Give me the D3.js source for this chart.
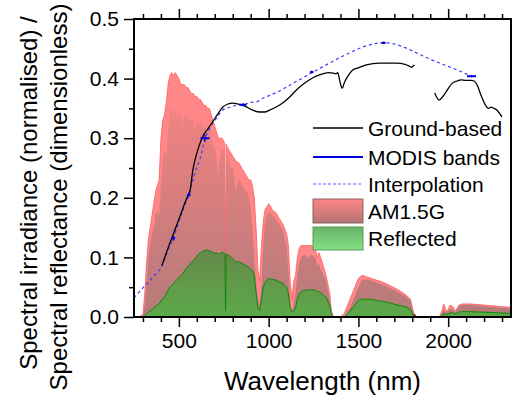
<!DOCTYPE html>
<html>
<head>
<meta charset="utf-8">
<script src="https://cdn.jsdelivr.net/npm/d3@7"></script>
<style>
  body { margin: 0; background: #fff; }
  svg text { font-family: "Liberation Sans", Arial, sans-serif; fill: #000; }
</style>
</head>
<body>
<div id="chart"></div>
<script>

// AM1.5G spectrum (normalised) and reflected part
var amWl = [280,300,310,320,330,340,350,360,370,380,
    390,400,410,420,430,440,450,460,470,480,
    490,500,510,520,530,540,550,560,570,580,
    590,600,610,620,630,640,650,660,670,680,
    690,700,710,720,730,740,750,756,760,764,
    770,780,790,800,810,820,830,840,850,860,
    870,880,890,900,910,920,930,940,950,960,
    970,980,990,1000,1010,1020,1040,1060,1080,1100,
    1110,1120,1130,1140,1150,1160,1170,1180,1200,1220,
    1240,1260,1270,1280,1290,1300,1320,1340,1350,1360,
    1400,1420,1440,1460,1480,1500,1520,1540,1560,1600,
    1640,1680,1720,1760,1790,1810,1820,1950,1965,1975,
    1990,2000,2010,2025,2040,2060,2080,2120,2200,2280,
    2350];
var amHigh = [0,0.005,0.04,0.09,0.13,0.15,0.17,0.19,0.21,0.22,
    0.23,0.30,0.33,0.34,0.36,0.39,0.405,0.41,0.405,0.41,
    0.405,0.40,0.39,0.39,0.39,0.385,0.385,0.38,0.375,0.375,
    0.37,0.37,0.365,0.365,0.36,0.355,0.355,0.35,0.35,0.34,
    0.33,0.32,0.31,0.30,0.30,0.30,0.295,0.29,0.10,0.29,
    0.285,0.28,0.275,0.27,0.265,0.26,0.26,0.255,0.25,0.245,
    0.24,0.235,0.23,0.23,0.22,0.20,0.15,0.08,0.06,0.12,
    0.16,0.18,0.185,0.19,0.186,0.18,0.175,0.165,0.155,0.14,
    0.12,0.06,0.03,0.06,0.07,0.10,0.115,0.12,0.12,0.12,
    0.12,0.115,0.10,0.108,0.10,0.09,0.07,0.04,0.01,0,
    0,0.005,0.02,0.035,0.05,0.065,0.07,0.068,0.066,0.062,
    0.058,0.052,0.046,0.038,0.03,0.005,0,0,0.01,0.022,
    0.01,0.012,0.02,0.018,0.01,0.02,0.022,0.022,0.02,0.018,
    0.016];
var amLow = [0,0,0.02,0.06,0.10,0.12,0.14,0.15,0.17,0.18,
    0.17,0.22,0.26,0.28,0.27,0.31,0.34,0.35,0.34,0.35,
    0.33,0.34,0.34,0.32,0.34,0.33,0.34,0.33,0.33,0.33,
    0.31,0.33,0.32,0.33,0.32,0.32,0.32,0.30,0.32,0.31,
    0.28,0.29,0.26,0.24,0.27,0.28,0.28,0.27,0.03,0.27,
    0.27,0.26,0.25,0.25,0.23,0.21,0.23,0.23,0.22,0.22,
    0.21,0.21,0.20,0.18,0.15,0.10,0.06,0.03,0.02,0.05,
    0.12,0.16,0.17,0.175,0.175,0.17,0.165,0.155,0.145,0.12,
    0.08,0.02,0.01,0.02,0.04,0.07,0.09,0.10,0.105,0.10,
    0.105,0.10,0.085,0.09,0.08,0.075,0.06,0.03,0.005,0,
    0,0,0.01,0.02,0.035,0.05,0.062,0.063,0.062,0.058,
    0.054,0.048,0.042,0.035,0.027,0,0,0,0.005,0.012,
    0.008,0.01,0.014,0.012,0.008,0.018,0.02,0.02,0.018,0.016,
    0.014];
var refl = [0,0,0.002,0.005,0.008,0.01,0.012,0.015,0.018,0.02,
    0.022,0.027,0.03,0.035,0.038,0.045,0.05,0.053,0.056,0.06,
    0.063,0.066,0.069,0.072,0.077,0.081,0.085,0.088,0.092,0.095,
    0.097,0.102,0.106,0.108,0.11,0.111,0.112,0.112,0.111,0.11,
    0.108,0.107,0.108,0.105,0.107,0.108,0.108,0.106,0.01,0.106,
    0.104,0.103,0.1,0.098,0.095,0.092,0.093,0.092,0.09,0.089,
    0.087,0.085,0.083,0.08,0.078,0.07,0.04,0.015,0.01,0.03,
    0.05,0.058,0.062,0.064,0.064,0.063,0.062,0.059,0.056,0.05,
    0.04,0.015,0.008,0.01,0.015,0.03,0.038,0.042,0.045,0.045,
    0.046,0.045,0.042,0.043,0.04,0.038,0.033,0.02,0.005,0,
    0,0,0.005,0.012,0.02,0.028,0.03,0.03,0.03,0.028,
    0.026,0.023,0.02,0.017,0.013,0,0,0,0.002,0.006,
    0.004,0.005,0.007,0.007,0.005,0.008,0.009,0.009,0.008,0.007,
    0.006];

// ground-based reflectance (null = gap in the water band)
var gbWl = [405,440,470,505,545,561,578,605,633,660,689,720,744,770,800,830,855,880,911,950,
    978,1005,1040,1078,1120,1155,1190,1228,1265,1300,1340,1360,1375,1385,1395,1405,1411,1420,1439,1467,
    1500,1544,1617,1711,1760,1783,1795,1811,
    1860,
    1925,1950,1970,1989,2022,2050,2072,2100,2128,2145,2160,2183,2200,2211,2225,2239,2255,2272,2290,2300];
var gbVal = [0.086,0.116,0.14,0.168,0.200,0.21,0.247,0.28,0.303,0.315,0.328,0.342,0.352,0.357,0.359,0.357,0.356,0.352,0.347,0.344,
    0.344,0.347,0.352,0.359,0.370,0.381,0.390,0.398,0.404,0.408,0.410,0.409,0.408,0.410,0.398,0.386,0.384,0.392,0.403,0.414,
    0.418,0.423,0.426,0.426,0.424,0.421,0.419,0.423,
    null,
    0.376,0.364,0.37,0.378,0.392,0.396,0.398,0.397,0.397,0.396,0.39,0.372,0.36,0.354,0.35,0.352,0.35,0.347,0.34,0.336];

// interpolation between MODIS bands
var ipWl = [250,300,355,406,440,469,500,530,555,590,617,645,672,711,744,783,820,858,900,933,
    967,1000,1078,1140,1189,1240,1290,1339,1400,1450,1500,1544,1600,1640,1700,1760,1811,1860,1911,1970,
    2022,2070,2100,2130];
var ipVal = [0.032,0.049,0.067,0.086,0.112,0.132,0.16,0.185,0.205,0.242,0.265,0.298,0.317,0.334,0.347,0.352,0.355,0.356,0.36,0.361,
    0.367,0.371,0.382,0.393,0.401,0.41,0.418,0.426,0.436,0.443,0.45,0.455,0.459,0.46,0.458,0.452,0.445,0.438,0.431,0.424,
    0.418,0.412,0.408,0.404];

// MODIS bands 1-7
var bandLo = [620,841,459,545,1230,1628,2105];
var bandHi = [670,876,479,565,1250,1652,2155];
var bandVal = [0.300,0.356,0.132,0.205,0.411,0.460,0.404];
var bandErr = [0.006,0.003,0.004,0.004,0.002,0.002,0.002];

var xMajor = [500,1000,1500,2000];
var xMinor = [300,400,600,700,800,900,1100,1200,1300,1400,1600,1700,1800,1900,2100,2200,2300];
var yMajor = [0,0.1,0.2,0.3,0.4,0.5];
var yMinor = [0.05,0.15,0.25,0.35,0.45];

var legendItems = ["Ground-based","MODIS bands","Interpolation","AM1.5G","Reflected"];

var margin = {top: 19, right: 5, bottom: 83, left: 134},
    width = 516 - margin.left - margin.right,
    height = 400 - margin.top - margin.bottom;

var svg = d3.select("#chart").append("svg")
    .attr("width", 516)
    .attr("height", 400);

var defs = svg.append("defs");

var g = svg.append("g")
    .attr("transform", "translate(" + margin.left + "," + margin.top + ")");

var x = d3.scaleLinear().domain([250, 2350]).range([0, width]);
var y = d3.scaleLinear().domain([0, 0.5]).range([height, 0]);

// gradients
var rg = defs.append("linearGradient").attr("id", "redGrad")
    .attr("gradientUnits", "userSpaceOnUse")
    .attr("x1", 0).attr("x2", 0).attr("y1", y(0.41)).attr("y2", y(0));
rg.append("stop").attr("offset", 0).attr("stop-color", "#fb8383");
rg.append("stop").attr("offset", 1).attr("stop-color", "#b57a7a");

var gg = defs.append("linearGradient").attr("id", "greenGrad")
    .attr("gradientUnits", "userSpaceOnUse")
    .attr("x1", 0).attr("x2", 0).attr("y1", y(0.115)).attr("y2", y(0));
gg.append("stop").attr("offset", 0).attr("stop-color", "#66884a");
gg.append("stop").attr("offset", 1).attr("stop-color", "#5caa4a");

var rl = defs.append("linearGradient").attr("id", "redLeg")
    .attr("x1", 0).attr("x2", 0).attr("y1", 0).attr("y2", 1);
rl.append("stop").attr("offset", 0).attr("stop-color", "#ff8585");
rl.append("stop").attr("offset", 1).attr("stop-color", "#b47474");

var gl = defs.append("linearGradient").attr("id", "greenLeg")
    .attr("x1", 0).attr("x2", 0).attr("y1", 0).attr("y2", 1);
gl.append("stop").attr("offset", 0).attr("stop-color", "#68b468");
gl.append("stop").attr("offset", 1).attr("stop-color", "#84e084");

defs.append("clipPath").attr("id", "clip")
    .append("rect").attr("width", width).attr("height", height);

var plot = g.append("g").attr("clip-path", "url(#clip)");

var amData = amWl.map(function(w, i) {
    return {w: w, hi: amHigh[i], lo: amLow[i], r: refl[i]};
});

// spectrum: pale spiky envelope, body and reflected part
plot.append("path")
    .datum(amData)
    .attr("fill", "#ff7272")
    .attr("fill-opacity", 0.85)
    .attr("stroke", "#ff5c5c")
    .attr("stroke-width", 0.8)
    .attr("d", d3.area().x(function(d) { return x(d.w); })
        .y0(y(0)).y1(function(d) { return y(d.hi); }));

plot.append("path")
    .datum(amData)
    .attr("fill", "url(#redGrad)")
    .attr("d", d3.area().x(function(d) { return x(d.w); })
        .y0(y(0)).y1(function(d) { return y(d.lo); }));

plot.append("path")
    .datum(amData.filter(function(d) { return d.w >= 1810 && d.w <= 1950; }))
    .attr("fill", "none")
    .attr("stroke", "#9a1010")
    .attr("stroke-width", 1.5)
    .attr("d", d3.line().x(function(d) { return x(d.w); }).y(function(d) { return y(d.hi); }));

plot.append("path")
    .datum(amData)
    .attr("fill", "url(#greenGrad)")
    .attr("stroke", "#0b8a0b")
    .attr("stroke-width", 1)
    .attr("d", d3.area().x(function(d) { return x(d.w); })
        .y0(y(0)).y1(function(d) { return y(d.r); }));

// interpolation
plot.append("path")
    .datum(ipWl.map(function(w, i) { return [w, ipVal[i]]; }))
    .attr("fill", "none")
    .attr("stroke", "#3a3aff")
    .attr("stroke-width", 1.2)
    .attr("stroke-dasharray", "3,3")
    .attr("d", d3.line().curve(d3.curveMonotoneX)
        .x(function(d) { return x(d[0]); }).y(function(d) { return y(d[1]); }));

// ground-based
plot.append("path")
    .datum(gbWl.map(function(w, i) { return [w, gbVal[i]]; }))
    .attr("fill", "none")
    .attr("stroke", "#000")
    .attr("stroke-width", 1.3)
    .attr("d", d3.line().curve(d3.curveMonotoneX)
        .defined(function(d) { return d[1] != null; })
        .x(function(d) { return x(d[0]); }).y(function(d) { return y(d[1]); }));

// MODIS bands
bandVal.forEach(function(v, i) {
    plot.append("line")
        .attr("x1", x(bandLo[i])).attr("x2", x(bandHi[i]))
        .attr("y1", y(v)).attr("y2", y(v))
        .attr("stroke", "#0000e0").attr("stroke-width", 2);
    plot.append("line")
        .attr("x1", x((bandLo[i] + bandHi[i]) / 2)).attr("x2", x((bandLo[i] + bandHi[i]) / 2))
        .attr("y1", y(v - bandErr[i])).attr("y2", y(v + bandErr[i]))
        .attr("stroke", "#0000e0").attr("stroke-width", 1.2);
});

// axes
function styleAxis(sel) {
    sel.select(".domain").remove();
    sel.selectAll("line").attr("stroke", "#000").attr("stroke-width", 1.5);
    sel.selectAll("text").style("font-size", "21px").attr("fill", "#000");
}

g.append("g").attr("transform", "translate(0," + height + ")")
    .call(d3.axisBottom(x).tickValues(xMajor).tickSize(10).tickPadding(6).tickFormat(d3.format("d")))
    .call(styleAxis);
g.append("g").attr("transform", "translate(0," + height + ")")
    .call(d3.axisBottom(x).tickValues(xMinor).tickSize(5).tickFormat(""))
    .call(styleAxis);
g.append("g")
    .call(d3.axisTop(x).tickValues(xMajor).tickSize(10).tickFormat(""))
    .call(styleAxis);
g.append("g")
    .call(d3.axisTop(x).tickValues(xMinor).tickSize(5).tickFormat(""))
    .call(styleAxis);
g.append("g")
    .call(d3.axisLeft(y).tickValues(yMajor).tickSize(10).tickPadding(5).tickFormat(d3.format(".1f")))
    .call(styleAxis);
g.append("g")
    .call(d3.axisLeft(y).tickValues(yMinor).tickSize(5).tickFormat(""))
    .call(styleAxis);

g.append("rect")
    .attr("width", width).attr("height", height)
    .attr("fill", "none").attr("stroke", "#000").attr("stroke-width", 2);

// axis titles
svg.append("text")
    .attr("x", margin.left + width / 2).attr("y", 390)
    .attr("text-anchor", "middle")
    .style("font-size", "26px")
    .text("Wavelength (nm)");

svg.append("text")
    .attr("transform", "translate(37,193) rotate(-90)")
    .attr("text-anchor", "middle")
    .style("font-size", "24px")
    .text("Spectral irradiance (normalised) /");
svg.append("text")
    .attr("transform", "translate(67,197) rotate(-90)")
    .attr("text-anchor", "middle")
    .style("font-size", "24px")
    .text("Spectral reflectance (dimensionless)");

// legend
var leg = svg.append("g");
var rowY = [128, 157, 184, 211, 238];
var lx0 = 313, lx1 = 363;

leg.append("line").attr("x1", lx0).attr("x2", lx1).attr("y1", rowY[0]).attr("y2", rowY[0])
    .attr("stroke", "#000").attr("stroke-width", 1.3);
leg.append("line").attr("x1", lx0).attr("x2", lx1).attr("y1", rowY[1]).attr("y2", rowY[1])
    .attr("stroke", "#0000e0").attr("stroke-width", 2);
leg.append("line").attr("x1", lx0).attr("x2", lx1).attr("y1", rowY[2]).attr("y2", rowY[2])
    .attr("stroke", "#5a5aff").attr("stroke-width", 1.2).attr("stroke-dasharray", "3,2");
leg.append("rect").attr("x", lx0).attr("y", rowY[3] - 12).attr("width", lx1 - lx0).attr("height", 24)
    .attr("fill", "url(#redLeg)").attr("stroke", "#8a6464").attr("stroke-width", 1);
leg.append("rect").attr("x", lx0).attr("y", rowY[4] - 11).attr("width", lx1 - lx0).attr("height", 23)
    .attr("fill", "url(#greenLeg)").attr("stroke", "#5a9a5a").attr("stroke-width", 1);

leg.selectAll("text.leg").data(legendItems).enter().append("text")
    .attr("class", "leg")
    .attr("x", 368)
    .attr("y", function(d, i) { return rowY[i]; })
    .attr("dy", "0.36em")
    .style("font-size", "21px")
    .text(function(d) { return d; });

</script>
</body>
</html>
